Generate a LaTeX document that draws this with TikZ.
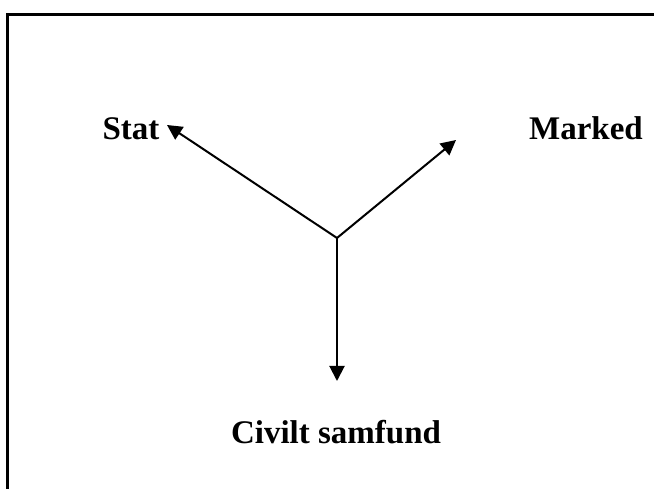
\documentclass[tikz,border=0pt]{standalone}
\usepackage{fontspec}
\setmainfont{Liberation Serif}
\usetikzlibrary{arrows.meta}
\begin{document}
\begin{tikzpicture}[x=1pt,y=-1pt,
  lbl/.style={font=\fontsize{33}{40}\selectfont\bfseries, inner sep=0pt, anchor=base},
  conn/.style={line width=2pt, -{Triangle[length=15pt,width=15pt]}},
  frame/.style={line width=2.2pt}]
\useasboundingbox (0,0) rectangle (654,489);
\draw[frame] (7.5,495) -- (7.5,14.5) -- (660,14.5);
\coordinate (c) at (337,238);
\coordinate (ts) at (167,125);
\coordinate (tm) at (456,140);
\coordinate (tc) at (337,381);
\node[lbl] (stat) at (131,140) {Stat};
\node[lbl] (marked) at (586,140) {Marked};
\node[lbl] (civ) at (336,443) {Civilt samfund};
\draw[conn] (c) -- (ts);
\draw[conn] (c) -- (tm);
\draw[conn] (c) -- (tc);
\end{tikzpicture}
\end{document}
